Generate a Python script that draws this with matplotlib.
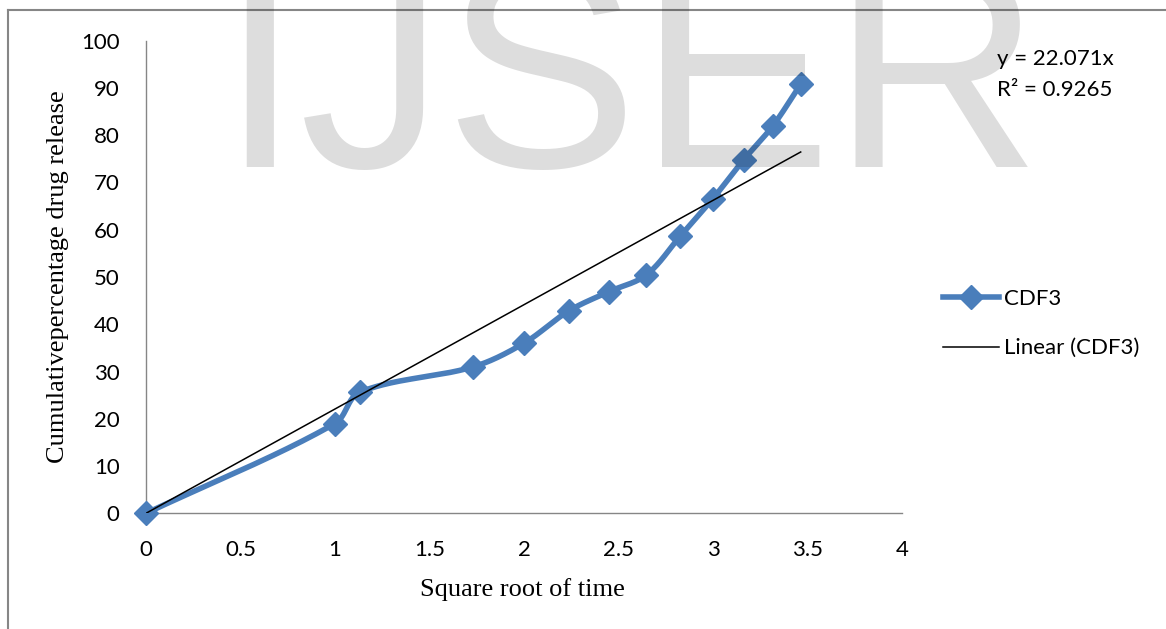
import numpy as np
import matplotlib
matplotlib.use("Agg")
import matplotlib.pyplot as plt
from matplotlib.lines import Line2D

# ---- data ----
sqrt_time = [0, 1, 1.13, 1.732, 2, 2.236, 2.449, 2.646, 2.828, 3, 3.162, 3.317, 3.464]
cdr = [0, 19.0, 25.6, 31.0, 36.0, 42.8, 46.9, 50.4, 58.7, 66.6, 74.8, 82.0, 90.8]
slope = 22.071
r2 = 0.9265
series_name = "CDF3"
x_ticks = [0, 0.5, 1, 1.5, 2, 2.5, 3, 3.5, 4]
y_ticks = [0, 10, 20, 30, 40, 50, 60, 70, 80, 90, 100]

W, H = 1166, 629
fig = plt.figure(figsize=(W / 100, H / 100), dpi=100)
fig.patch.set_facecolor("white")

def px(x, y):
    return x / W, 1 - y / H

ax = fig.add_axes([146 / W, (H - 513.3) / H, (902 - 146) / W, (513.3 - 40.7) / H])
ax.set_xlim(0, 4)
ax.set_ylim(0, 100)
ax.set_xticks(x_ticks)
ax.set_yticks(y_ticks)
ax.set_xticklabels([f"{v:g}" for v in x_ticks])
ax.set_yticklabels([f"{v:g}" for v in y_ticks])
for s in ["top", "right"]:
    ax.spines[s].set_visible(False)
for s in ["left", "bottom"]:
    ax.spines[s].set_color("#868686")
    ax.spines[s].set_linewidth(1.0)
ax.tick_params(length=0, labelsize=16, colors="black")
ax.tick_params(axis="y", pad=19)
ax.tick_params(axis="x", pad=19)
for lab in ax.get_xticklabels() + ax.get_yticklabels():
    lab.set_family("Lato")

# smoothed line (Excel-like bezier in display space)
fig.canvas.draw()
pts = ax.transData.transform(np.column_stack([sqrt_time, cdr]))
n = len(pts)

def tangent(i):
    a = pts[i - 1] if i > 0 else pts[i]
    b = pts[i + 1] if i + 1 < n else pts[i]
    d = b - a
    return d / np.linalg.norm(d)

curve = []
for i in range(n - 1):
    p1 = pts[i]
    p2 = pts[i + 1]
    L = np.linalg.norm(p2 - p1)
    b1 = p1 + tangent(i) * L / 3 if i > 0 else p1 + (p2 - p1) / 3
    b2 = p2 - tangent(i + 1) * L / 3 if i + 1 < n - 1 else p2 - (p2 - p1) / 3
    t = np.linspace(0, 1, 40)[:, None]
    seg = ((1 - t) ** 3) * p1 + 3 * ((1 - t) ** 2) * t * b1 + 3 * (1 - t) * t ** 2 * b2 + t ** 3 * p2
    curve.append(seg if i == 0 else seg[1:])
curve = np.vstack(curve)
curve_data = ax.transData.inverted().transform(curve)

blue = "#4A7EBB"
ax.plot(curve_data[:, 0], curve_data[:, 1], color=blue, lw=4.0, solid_capstyle="round",
        solid_joinstyle="round", zorder=3, clip_on=False)
ax.plot(sqrt_time, cdr, linestyle="none", marker="D", markersize=12, color=blue, zorder=4, clip_on=False)

xt = np.array([0, max(sqrt_time)])
ax.plot(xt, slope * xt, color="black", lw=1.1, zorder=5)

# legend
h1 = Line2D([], [], color=blue, lw=4.0, marker="D", markersize=12)
h2 = Line2D([], [], color="black", lw=1.1)
leg = fig.legend([h1, h2], [series_name, f"Linear ({series_name})"],
                 loc="upper left", bbox_to_anchor=px(943, 289), frameon=False,
                 prop={"family": "Lato", "size": 16}, handlelength=2.5,
                 handletextpad=0.25, labelspacing=1.32, borderpad=0, borderaxespad=0)

# trendline equation
fig.text(*px(997, 59), f"y = {slope}x", family="Lato", fontsize=16, va="center", ha="left")
fig.text(*px(997, 90), f"R² = {r2}", family="Lato", fontsize=16, va="center", ha="left")

# axis titles
fig.text(*px(58, 277), "Cumulativepercentage drug release", family="Liberation Serif",
         fontsize=19, rotation=90, ha="center", va="center")
fig.text(*px(522, 590), "Square root of time", family="Liberation Serif",
         fontsize=19, ha="center", va="center")

# outer frame (partial)
fig.add_artist(Line2D([8 / W, 8 / W], [0, 1 - 10 / H], color="#868686", lw=1.5))
fig.add_artist(Line2D([8 / W, 1], [1 - 10 / H, 1 - 10 / H], color="#868686", lw=1.5))

# watermark
fig.text(*px(219, 167), "IJSER", family="Liberation Sans", fontsize=209,
         color="black", alpha=0.134, ha="left", va="baseline", zorder=10)

fig.savefig("out.png", dpi=100)
